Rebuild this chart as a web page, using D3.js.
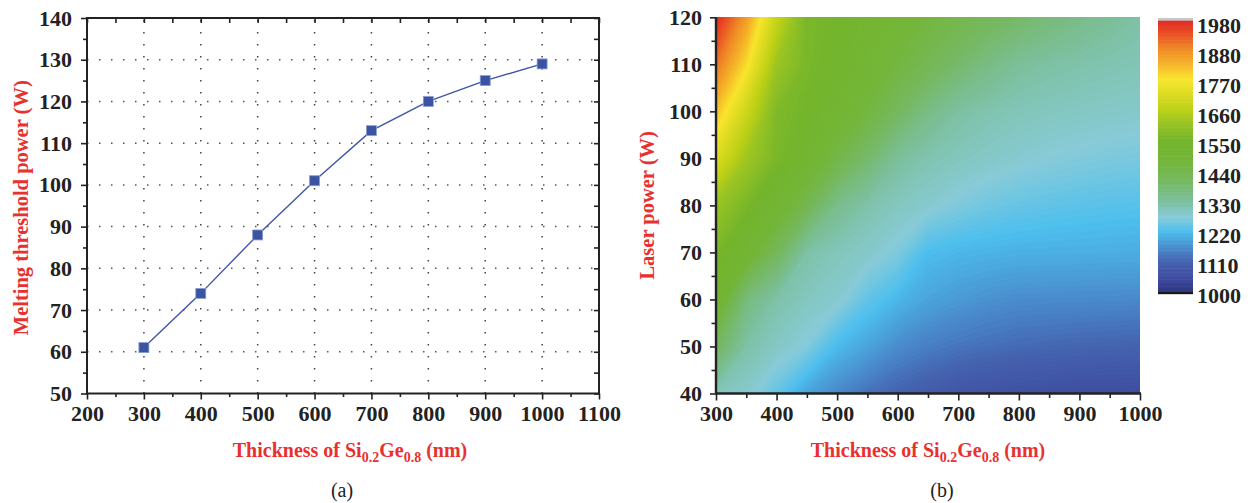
<!DOCTYPE html>
<html><head><meta charset="utf-8">
<script src="https://cdn.jsdelivr.net/npm/d3@7"></script>
<style>
html,body{margin:0;padding:0;background:#fff;}
svg text{font-family:"Liberation Serif","Times New Roman",serif;}
</style></head>
<body>
<svg id="chart" width="1252" height="503"></svg>
<script>
// ---------- data ----------
const thickness = [300, 400, 500, 600, 700, 800, 900, 1000];
const thresholdPower = [61, 74, 88, 101, 113, 120, 125, 129];

const leftXTicks = [200, 300, 400, 500, 600, 700, 800, 900, 1000, 1100];
const leftYTicks = [50, 60, 70, 80, 90, 100, 110, 120, 130, 140];
const rightXTicks = [300, 400, 500, 600, 700, 800, 900, 1000];
const rightYTicks = [40, 50, 60, 70, 80, 90, 100, 110, 120];
const colorbarLabels = [1980, 1880, 1770, 1660, 1550, 1440, 1330, 1220, 1110, 1000];

// temperature map grid, columns = thickness, rows = laser power
const gridThickness = [300, 350, 400, 450, 500, 550, 600, 650, 700, 750, 800, 850, 900, 950, 1000];
const gridPower = [120, 110, 100, 90, 80, 70, 60, 50, 40];
const tP120 = [1980, 1855, 1680, 1560, 1545, 1520, 1490, 1462, 1440, 1418, 1397, 1376, 1356, 1337, 1322];
const tP110 = [1900, 1780, 1615, 1560, 1535, 1495, 1460, 1425, 1392, 1360, 1334, 1323, 1316, 1310, 1305];
const tP100 = [1810, 1690, 1570, 1545, 1505, 1460, 1410, 1360, 1325, 1311, 1302, 1296, 1292, 1288, 1285];
const tP90  = [1720, 1620, 1560, 1510, 1445, 1390, 1332, 1310, 1298, 1288, 1278, 1270, 1265, 1260, 1257];
const tP80  = [1610, 1560, 1500, 1430, 1350, 1316, 1295, 1280, 1262, 1250, 1242, 1237, 1233, 1230, 1228];
const tP70  = [1560, 1500, 1415, 1320, 1300, 1285, 1262, 1218, 1210, 1206, 1203, 1202, 1201, 1200, 1199];
const tP60  = [1510, 1370, 1318, 1295, 1280, 1238, 1210, 1188, 1176, 1166, 1160, 1159, 1158, 1157, 1156];
const tP50  = [1410, 1320, 1290, 1265, 1215, 1188, 1160, 1143, 1132, 1125, 1119, 1115, 1112, 1110, 1108];
const tP40  = [1300, 1282, 1240, 1188, 1155, 1128, 1108, 1092, 1076, 1068, 1062, 1058, 1055, 1053, 1052];
const tempRows = [tP120, tP110, tP100, tP90, tP80, tP70, tP60, tP50, tP40];

// colour map stops (value -> colour)
const cmapValues = [1000, 1050, 1110, 1160, 1220, 1270, 1330, 1400, 1470, 1550, 1610, 1660, 1770, 1830, 1880, 1930, 1980];
const cmapColors = ["#2d3580", "#3f4c9f", "#4563b0", "#4a8ccd", "#4dbfee", "#88cbd9", "#7cbf9d", "#76b965",
                    "#74b63a", "#74b52c", "#98c424", "#bdd117", "#f9e52e", "#f5b02a", "#ef8a27", "#ea5525", "#e42a23"];

// ---------- setup ----------
const svg = d3.select("#chart");
const RED = "#e8312f";
const FONT = 22;

// ================= LEFT CHART =================
const L = {x0: 87, x1: 599, y0: 18, y1: 393.5};
const xL = d3.scaleLinear().domain([200, 1100]).range([L.x0, L.x1]);
const yL = d3.scaleLinear().domain([50, 140]).range([L.y1, L.y0]);
const gL = svg.append("g");

// dotted grid
gL.append("g").selectAll("line").data(leftXTicks.slice(1, -1)).join("line")
  .attr("x1", d => xL(d)).attr("x2", d => xL(d)).attr("y1", L.y1).attr("y2", L.y0)
  .attr("stroke", "#444").attr("stroke-width", 1.5).attr("stroke-dasharray", "1.5 10.5");
gL.append("g").selectAll("line").data(leftYTicks.slice(1, -1)).join("line")
  .attr("y1", d => yL(d)).attr("y2", d => yL(d)).attr("x1", L.x0).attr("x2", L.x1)
  .attr("stroke", "#555").attr("stroke-width", 1.5).attr("stroke-dasharray", "1.5 10.5");

// minor tick positions
const xMinorL = d3.range(250, 1100, 100);
const yMinorL = d3.range(55, 140, 10);

function styleAxis(g) {
  g.select(".domain").remove();
  g.selectAll(".tick line").attr("stroke", "#222").attr("stroke-width", 1.6);
  g.selectAll(".tick text").attr("font-size", FONT).attr("font-weight", "bold").attr("fill", "#222")
    .attr("font-family", "Liberation Serif");
}
// bottom
gL.append("g").attr("transform", `translate(0,${L.y1})`)
  .call(d3.axisBottom(xL).tickValues(leftXTicks).tickSize(6).tickPadding(6).tickFormat(d3.format("d"))).call(styleAxis);
gL.append("g").attr("transform", `translate(0,${L.y1})`)
  .call(d3.axisBottom(xL).tickValues(xMinorL).tickSize(3.5).tickFormat("")).call(styleAxis);
// left
gL.append("g").attr("transform", `translate(${L.x0},0)`)
  .call(d3.axisLeft(yL).tickValues(leftYTicks).tickSize(6).tickPadding(9).tickFormat(d3.format("d"))).call(styleAxis);
gL.append("g").attr("transform", `translate(${L.x0},0)`)
  .call(d3.axisLeft(yL).tickValues(yMinorL).tickSize(4).tickFormat("")).call(styleAxis);
// top (inward)
gL.append("g").attr("transform", `translate(0,${L.y0})`)
  .call(d3.axisTop(xL).tickValues(leftXTicks.concat(xMinorL)).tickSize(-5).tickFormat("")).call(styleAxis);
// right (inward)
gL.append("g").attr("transform", `translate(${L.x1},0)`)
  .call(d3.axisRight(yL).tickValues(leftYTicks.concat(yMinorL)).tickSize(-5).tickFormat("")).call(styleAxis);
// frame
gL.append("rect").attr("x", L.x0).attr("y", L.y0).attr("width", L.x1 - L.x0).attr("height", L.y1 - L.y0)
  .attr("fill", "none").attr("stroke", "#222").attr("stroke-width", 2);

// data line + markers
const pts = thickness.map((t, i) => [t, thresholdPower[i]]);
gL.append("path").datum(pts)
  .attr("d", d3.line().x(d => xL(d[0])).y(d => yL(d[1])))
  .attr("fill", "none").attr("stroke", "#3d56a8").attr("stroke-width", 1.4);
gL.append("g").selectAll("rect").data(pts).join("rect")
  .attr("x", d => xL(d[0]) - 5).attr("y", d => yL(d[1]) - 5)
  .attr("width", 10).attr("height", 10)
  .attr("fill", "#3a53a3").attr("stroke", "#8d9fd0").attr("stroke-width", 0.8);

// titles
gL.append("text").attr("transform", `translate(28,${(L.y0 + L.y1) / 2 + 2}) rotate(-90)`)
  .attr("text-anchor", "middle").attr("font-size", 20.5).attr("font-weight", "bold").attr("fill", RED)
  .text("Melting threshold power (W)");

function xTitle(g, cx) {
  const t = g.append("text").attr("x", cx).attr("y", 457).attr("text-anchor", "middle")
    .attr("font-size", 20).attr("font-weight", "bold").attr("fill", RED);
  t.append("tspan").text("Thickness of Si");
  t.append("tspan").attr("font-size", 14).attr("dy", 5).text("0.2");
  t.append("tspan").attr("dy", -5).text("Ge");
  t.append("tspan").attr("font-size", 14).attr("dy", 5).text("0.8");
  t.append("tspan").attr("dy", -5).text(" (nm)");
}
xTitle(gL, 350);
gL.append("text").attr("x", 342).attr("y", 497).attr("text-anchor", "middle")
  .attr("font-size", 20).attr("fill", "#222").text("(a)");

// ================= RIGHT CHART =================
const R = {x0: 716, x1: 1140, y0: 17.3, y1: 393.5};
const xR = d3.scaleLinear().domain([300, 1000]).range([R.x0, R.x1]);
const yR = d3.scaleLinear().domain([40, 120]).range([R.y1, R.y0]);
const color = d3.scaleLinear().domain(cmapValues).range(cmapColors).interpolate(d3.interpolateRgb).clamp(true);

const gR = svg.append("g");
svg.append("defs").append("clipPath").attr("id", "clipR").append("rect")
  .attr("x", R.x0).attr("y", R.y0).attr("width", R.x1 - R.x0).attr("height", R.y1 - R.y0);

const nx = gridThickness.length, ny = gridPower.length;
const flat = [].concat(...tempRows);
const stepT = 5;
const thresholds = d3.range(1000, 1985, stepT);
const contours = d3.contours().size([nx, ny]).smooth(true).thresholds(thresholds)(flat);
const dx = gridThickness[1] - gridThickness[0];
const dp = gridPower[0] - gridPower[1];
const proj = d3.geoTransform({
  point: function(x, y) {
    this.stream.point(xR(gridThickness[0] + (x - 0.5) * dx), yR(gridPower[0] - (y - 0.5) * dp));
  }
});
const path = d3.geoPath(proj);
const heat = gR.append("g").attr("clip-path", "url(#clipR)");
heat.append("rect").attr("x", R.x0).attr("y", R.y0).attr("width", R.x1 - R.x0).attr("height", R.y1 - R.y0)
  .attr("fill", color(1000));
heat.selectAll("path").data(contours).join("path")
  .attr("d", path).attr("fill", d => color(d.value + stepT / 2))
  .attr("stroke", d => color(d.value + stepT / 2)).attr("stroke-width", 0.3);

// axes
const xMinorR = d3.range(350, 1000, 100);
const yMinorR = d3.range(45, 120, 10);
gR.append("g").attr("transform", `translate(0,${R.y1})`)
  .call(d3.axisBottom(xR).tickValues(rightXTicks).tickSize(7).tickPadding(5).tickFormat(d3.format("d"))).call(styleAxis);
gR.append("g").attr("transform", `translate(0,${R.y1})`)
  .call(d3.axisBottom(xR).tickValues(xMinorR).tickSize(4.5).tickFormat("")).call(styleAxis);
gR.append("g").attr("transform", `translate(${R.x0},0)`)
  .call(d3.axisLeft(yR).tickValues(rightYTicks).tickSize(6).tickPadding(8).tickFormat(d3.format("d"))).call(styleAxis);
gR.append("g").attr("transform", `translate(${R.x0},0)`)
  .call(d3.axisLeft(yR).tickValues(yMinorR).tickSize(4.5).tickFormat("")).call(styleAxis);
gR.append("line").attr("x1", R.x0).attr("x2", R.x1 + 1).attr("y1", R.y1).attr("y2", R.y1)
  .attr("stroke", "#222").attr("stroke-width", 2.4);
gR.append("line").attr("x1", R.x0).attr("x2", R.x0).attr("y1", R.y0).attr("y2", R.y1)
  .attr("stroke", "#222").attr("stroke-width", 2.4);

gR.append("text").attr("transform", `translate(654,${(R.y0 + R.y1) / 2}) rotate(-90)`)
  .attr("text-anchor", "middle").attr("font-size", 20.5).attr("font-weight", "bold").attr("fill", RED)
  .text("Laser power (W)");
xTitle(gR, 928);
gR.append("text").attr("x", 942).attr("y", 497).attr("text-anchor", "middle")
  .attr("font-size", 20).attr("fill", "#222").text("(b)");

// ================= COLORBAR =================
const CB = {x0: 1158, x1: 1193, top: 21, bottom: 292};
const cbY = d3.scaleLinear().domain([1000, 1980]).range([CB.bottom, CB.top]);
const gC = svg.append("g");
gC.append("rect").attr("x", CB.x0).attr("y", CB.top - 3).attr("width", CB.x1 - CB.x0).attr("height", 3.5).attr("fill", "#c8c8c8");
gC.selectAll("rect.band").data(d3.range(1000, 1980, stepT)).join("rect").attr("class", "band")
  .attr("x", CB.x0).attr("width", CB.x1 - CB.x0)
  .attr("y", d => cbY(d + stepT) - 0.3).attr("height", d => cbY(d) - cbY(d + stepT) + 0.6)
  .attr("fill", d => color(d + stepT / 2));
gC.append("rect").attr("x", CB.x0).attr("y", CB.bottom).attr("width", CB.x1 - CB.x0).attr("height", 2.2).attr("fill", "#1a1a1a");
const cbLab = d3.scalePoint().domain(colorbarLabels).range([25, 295]);
gC.selectAll("text").data(colorbarLabels).join("text")
  .attr("x", 1197).attr("y", d => cbLab(d)).attr("dy", "0.35em")
  .attr("font-size", FONT).attr("font-weight", "bold").attr("fill", "#222").text(d => d);
</script>
</body></html>
